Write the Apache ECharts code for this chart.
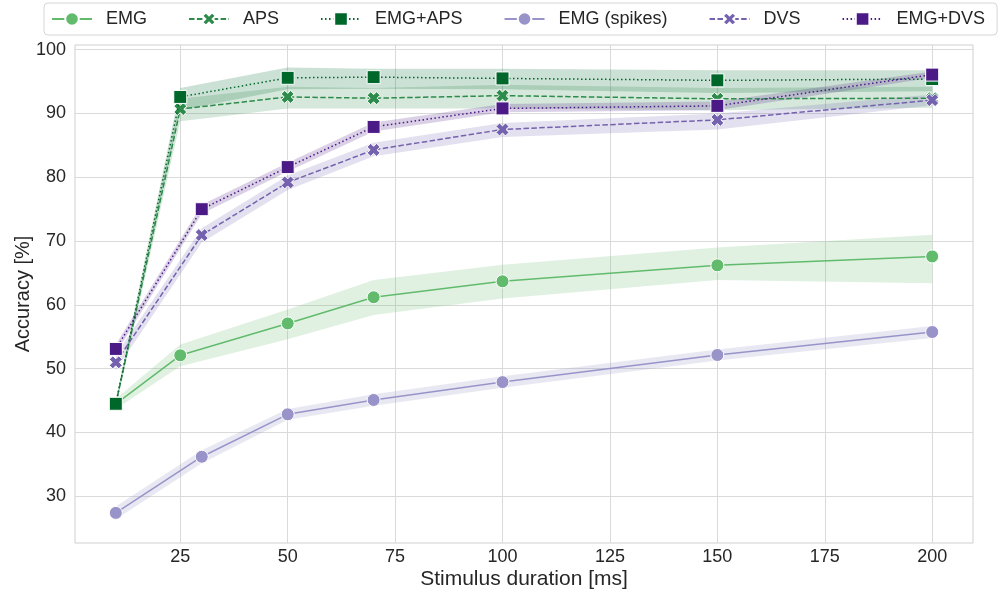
<!DOCTYPE html>
<html>
<head>
<meta charset="utf-8">
<script src="https://cdn.jsdelivr.net/npm/echarts@6/dist/echarts.min.js"></script>
<style>html,body{margin:0;padding:0;background:#fff}#c{width:999px;height:596px}</style>
</head>
<body>
<div id="c"></div>
<script>
// durations
const durA = [10, 25, 50, 70, 100, 150, 200];
const durB = [10, 30, 50, 70, 100, 150, 200];
const xTicks = [25, 50, 75, 100, 125, 150, 175, 200];
const yTicks = [30, 40, 50, 60, 70, 80, 90, 100];

// EMG
const emg   = [44.5, 52.1, 57.1, 61.2, 63.7, 66.2, 67.6];
const emgLo = [43.7, 50.4, 54.6, 58.4, 61.0, 63.9, 63.4];
const emgHi = [45.3, 53.8, 59.3, 63.9, 66.3, 69.0, 71.0];
// APS
const aps   = [44.5, 90.7, 92.6, 92.4, 92.8, 92.3, 92.4];
const apsLo = [44.0, 88.8, 90.8, 90.8, 90.8, 90.5, 90.9];
const apsHi = [45.0, 92.3, 94.2, 94.0, 94.5, 94.0, 94.2];
// EMG+APS
const emgAps   = [44.5, 92.6, 95.6, 95.7, 95.5, 95.2, 95.4];
const emgApsLo = [44.0, 90.5, 93.8, 93.9, 93.8, 93.2, 93.5];
const emgApsHi = [45.0, 94.0, 97.2, 97.0, 97.0, 96.8, 96.8];
// EMG (spikes)
const spikes   = [27.4, 36.2, 42.85, 45.1, 47.9, 52.15, 55.75];
const spikesLo = [26.4, 35.2, 42.0, 44.2, 47.0, 51.3, 54.8];
const spikesHi = [28.4, 37.2, 43.7, 46.0, 48.8, 53.0, 56.7];
// DVS
const dvs   = [51.0, 70.95, 79.2, 84.3, 87.5, 89.0, 92.1];
const dvsLo = [49.8, 69.8, 78.0, 83.3, 86.3, 87.5, 91.3];
const dvsHi = [52.2, 72.0, 80.3, 85.4, 88.5, 90.0, 93.0];
// EMG+DVS
const emgDvs   = [53.1, 75.0, 81.6, 87.9, 90.8, 91.2, 96.1];
const emgDvsLo = [52.4, 74.3, 80.9, 87.2, 90.2, 90.5, 95.6];
const emgDvsHi = [53.8, 75.7, 82.3, 88.6, 91.5, 91.9, 96.6];

const X_PATH = 'path://M1.414,-3.111L3.111,-1.414L1.697,0L3.111,1.414L1.414,3.111L0,1.697L-1.414,3.111L-3.111,1.414L-1.697,0L-3.111,-1.414L-1.414,-3.111L0,-1.697Z';
const FONT = '"Liberation Sans", Arial, sans-serif';
const TXT = '#262626';

const defs = [
  {name: 'EMG', xs: durA, y: emg, lo: emgLo, hi: emgHi, color: '#62bb6d', band: 'rgba(98,187,109,0.2)', symbol: 'circle', line: 'solid'},
  {name: 'APS', xs: durA, y: aps, lo: apsLo, hi: apsHi, color: '#2d8b4b', band: 'rgba(45,139,75,0.2)', symbol: X_PATH, line: [5.5, 2.4]},
  {name: 'EMG+APS', xs: durA, y: emgAps, lo: emgApsLo, hi: emgApsHi, color: '#00672b', band: 'rgba(0,103,43,0.2)', symbol: 'rect', line: [1.5, 2.5]},
  {name: 'EMG (spikes)', xs: durB, y: spikes, lo: spikesLo, hi: spikesHi, color: '#9894c9', band: 'rgba(152,148,201,0.22)', symbol: 'circle', line: 'solid'},
  {name: 'DVS', xs: durB, y: dvs, lo: dvsLo, hi: dvsHi, color: '#7462ae', band: 'rgba(116,98,174,0.2)', symbol: X_PATH, line: [5.5, 2.4]},
  {name: 'EMG+DVS', xs: durB, y: emgDvs, lo: emgDvsLo, hi: emgDvsHi, color: '#4b1a87', band: 'rgba(75,26,135,0.2)', symbol: 'rect', line: [1.5, 2.5]}
];

const series = [];
defs.forEach(function (d) {
  series.push({
    type: 'custom',
    name: d.name + ' band',
    z: 1,
    silent: true,
    data: d.xs.map(function (x, i) { return [x, d.lo[i], d.hi[i]]; }),
    encode: {x: 0, y: [1, 2]},
    renderItem: function (params, api) {
      if (params.dataIndex !== 0) return null;
      const pts = [];
      for (let i = 0; i < d.xs.length; i++) pts.push(api.coord([d.xs[i], d.hi[i]]));
      for (let i = d.xs.length - 1; i >= 0; i--) pts.push(api.coord([d.xs[i], d.lo[i]]));
      return {type: 'polygon', shape: {points: pts}, style: {fill: d.band, stroke: null}};
    }
  });
});
defs.forEach(function (d, k) {
  series.push({
    type: 'line',
    name: d.name,
    z: 2 + k,
    data: d.xs.map(function (x, i) { return [x, d.y[i]]; }),
    symbol: d.symbol,
    symbolSize: 13,
    showAllSymbol: true,
    lineStyle: {color: d.color, width: 1.5, type: d.line},
    itemStyle: {color: d.color, borderColor: '#ffffff', borderWidth: 1},
    emphasis: {disabled: true}
  });
});

const chart = echarts.init(document.getElementById('c'), null, {renderer: 'canvas'});
chart.setOption({
  animation: false,
  backgroundColor: '#ffffff',
  textStyle: {fontFamily: FONT},
  legend: {
    data: defs.map(function (d) { return d.name; }),
    left: 44, top: 3, width: 950,
    padding: [7, 12, 7, 7],
    itemWidth: 40, itemHeight: 17, itemGap: 41,
    borderColor: '#d6d6d6', borderWidth: 1, borderRadius: 4,
    textStyle: {fontSize: 18, color: TXT, fontFamily: FONT, padding: [0, 0, 0, 9]}
  },
  grid: {left: 75, right: 26, top: 45, bottom: 53, show: true, borderColor: '#cfcfcf', borderWidth: 1, containLabel: false, outerBoundsMode: 'none'},
  xAxis: {
    type: 'value', min: 0.5, max: 209.5,
    name: 'Stimulus duration [ms]', nameLocation: 'middle', nameGap: 26, nameMoveOverlap: false,
    nameTextStyle: {fontSize: 21, color: TXT, fontFamily: FONT},
    axisLine: {show: false},
    axisTick: {show: false, customValues: xTicks},
    axisLabel: {customValues: xTicks, fontSize: 18, color: TXT, margin: 5, fontFamily: FONT},
    splitLine: {show: true, lineStyle: {color: '#dadada', width: 1}}
  },
  yAxis: {
    type: 'value', min: 22.68, max: 100.74,
    name: 'Accuracy [%]', nameLocation: 'middle', nameGap: 42, nameMoveOverlap: false,
    nameTextStyle: {fontSize: 20, color: TXT, fontFamily: FONT},
    axisLine: {show: false},
    axisTick: {show: false, customValues: yTicks},
    axisLabel: {customValues: yTicks, fontSize: 18, color: TXT, margin: 9, fontFamily: FONT},
    splitLine: {show: true, lineStyle: {color: '#dadada', width: 1}}
  },
  series: series
});
</script>
</body>
</html>
